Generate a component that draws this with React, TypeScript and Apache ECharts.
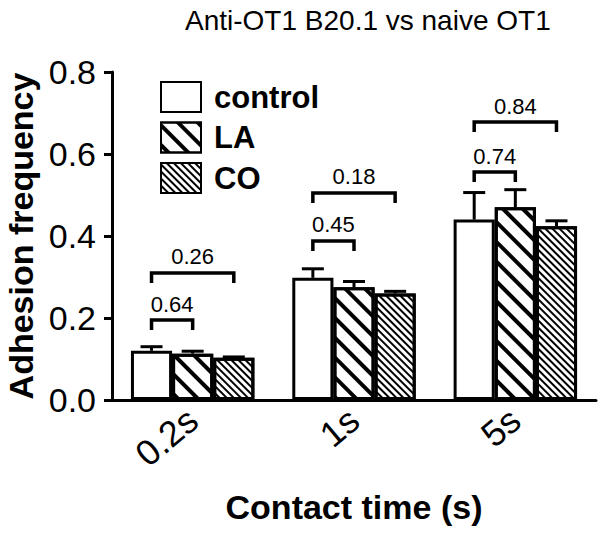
import React, { useEffect, useRef } from "react";
import * as echarts from "echarts";

const categories = ["0.2s", "1s", "5s"];
const seriesNames = ["control", "LA", "CO"];
const controlValues = [0.12, 0.298, 0.44];
const controlErrors = [0.01, 0.022, 0.066];
const laValues = [0.113, 0.275, 0.47];
const laErrors = [0.006, 0.014, 0.043];
const coValues = [0.103, 0.26, 0.424];
const coErrors = [0.002, 0.005, 0.013];
const yTicks = [0, 0.2, 0.4, 0.6, 0.8];
// bracket: [category index, y value, from bar, to bar]
const brackets = [
  [0, 0.195, 0, 1],
  [0, 0.31, 0, 2],
  [1, 0.388, 0, 1],
  [1, 0.505, 0, 2],
  [2, 0.556, 0, 1],
  [2, 0.678, 0, 2],
];
const bracketLabels = ["0.64", "0.26", "0.45", "0.18", "0.74", "0.84"];

const FONT = "'Liberation Sans', Arial, Helvetica, sans-serif";
const BAR_FRAC = 0.255;

export default function App() {
  const ref = useRef<HTMLDivElement>(null);
  useEffect(() => {
    if (!ref.current) return;
    const chart = echarts.init(ref.current, null, { renderer: "svg" });
    const values = [controlValues, laValues, coValues];
    const errors = [controlErrors, laErrors, coErrors];
    const decals: any[] = [
      null,
      {
        symbol: "rect",
        symbolSize: 1,
        dashArrayX: [1, 0],
        dashArrayY: [3.5, 10],
        rotation: Math.PI / 4,
        color: "#000",
        backgroundColor: "#fff",
      },
      {
        symbol: "rect",
        symbolSize: 1,
        dashArrayX: [1, 0],
        dashArrayY: [1.6, 3],
        rotation: Math.PI / 4,
        color: "#000",
        backgroundColor: "#fff",
      },
    ];
    const barSeries = seriesNames.map((name, i) => ({
      name,
      type: "bar",
      data: values[i],
      barWidth: BAR_FRAC * 100 + "%",
      barGap: "0%",
      z: 2,
      itemStyle: {
        color: "#fff",
        borderColor: "#000",
        borderWidth: 3,
        decal: decals[i] || undefined,
      },
    }));
    const errData: number[][] = [];
    errors.forEach((arr, s) =>
      arr.forEach((e, c) => errData.push([c, s, values[s][c], e]))
    );
    const option: any = {
      animation: false,
      aria: { enabled: false },
      title: {
        text: "Anti-OT1 B20.1 vs naive OT1",
        left: 180,
        top: 1,
        textStyle: { fontFamily: FONT, fontSize: 28, fontWeight: "normal", color: "#000" },
      },
      legend: {
        orient: "vertical",
        left: 155,
        top: 76,
        itemWidth: 40,
        itemHeight: 30,
        itemGap: 8.5,
        icon: "rect",
        data: seriesNames,
        textStyle: {
          fontFamily: FONT,
          fontSize: 31,
          fontWeight: "bold",
          color: "#000",
          padding: [0, 0, 0, 8],
        },
      },
      grid: { left: 112, right: 4, top: 72, bottom: 138, outerBoundsMode: "none", containLabel: false },
      xAxis: {
        type: "category",
        data: categories,
        name: "Contact time (s)",
        nameLocation: "middle",
        nameGap: 90,
        nameTextStyle: { fontFamily: FONT, fontSize: 34, fontWeight: "bold", color: "#000" },
        axisLine: { lineStyle: { color: "#000", width: 3 } },
        axisTick: { alignWithLabel: true, length: 8, lineStyle: { color: "#000", width: 3 } },
        axisLabel: {
          rotate: 40,
          margin: 15,
          fontFamily: FONT,
          fontSize: 36,
          color: "#000",
        },
      },
      yAxis: {
        type: "value",
        min: 0,
        max: 0.8,
        interval: 0.2,
        name: "Adhesion frequency",
        nameLocation: "middle",
        nameGap: 70,
        nameTextStyle: { fontFamily: FONT, fontSize: 34, fontWeight: "bold", color: "#000" },
        splitLine: { show: false },
        axisLine: { show: true, lineStyle: { color: "#000", width: 3 } },
        axisTick: { show: true, length: 8, lineStyle: { color: "#000", width: 3 } },
        axisLabel: {
          margin: 16,
          fontFamily: FONT,
          fontSize: 34,
          color: "#000",
          formatter: (v: number) => (yTicks.indexOf(v) >= 0 ? v.toFixed(1) : ""),
        },
      },
      series: [
        ...barSeries,
        {
          type: "custom",
          name: "errors",
          z: 5,
          silent: true,
          encode: { x: 0, y: 2 },
          data: errData,
          renderItem: (params: any, api: any) => {
            const c = api.value(0);
            const s = api.value(1);
            const v = api.value(2);
            const e = api.value(3);
            const band = api.size([1, 0])[0];
            const off = (s - 1) * band * BAR_FRAC;
            const p0 = api.coord([c, v]);
            const p1 = api.coord([c, v + e]);
            const x = p0[0] + off;
            const hw = 11;
            return {
              type: "group",
              children: [
                {
                  type: "line",
                  shape: { x1: x, y1: p0[1], x2: x, y2: p1[1] },
                  style: { stroke: "#000", lineWidth: 3 },
                },
                {
                  type: "line",
                  shape: { x1: x - hw, y1: p1[1], x2: x + hw, y2: p1[1] },
                  style: { stroke: "#000", lineWidth: 3 },
                },
              ],
            };
          },
        },
        {
          type: "custom",
          name: "brackets",
          z: 5,
          silent: true,
          encode: { x: 0, y: 1 },
          data: brackets,
          renderItem: (params: any, api: any) => {
            const c = api.value(0);
            const y = api.value(1);
            const a = api.value(2);
            const b = api.value(3);
            const band = api.size([1, 0])[0];
            const p = api.coord([c, y]);
            const xa = p[0] + (a - 1) * band * BAR_FRAC;
            const xb = p[0] + (b - 1) * band * BAR_FRAC;
            const drop = 10;
            return {
              type: "group",
              children: [
                {
                  type: "polyline",
                  shape: {
                    points: [
                      [xa, p[1] + drop],
                      [xa, p[1]],
                      [xb, p[1]],
                      [xb, p[1] + drop],
                    ],
                  },
                  style: { stroke: "#000", lineWidth: 3.5, fill: null },
                },
                {
                  type: "text",
                  x: (xa + xb) / 2,
                  y: p[1] - 5,
                  style: {
                    text: bracketLabels[params.dataIndex],
                    fontFamily: FONT,
                    fontSize: 22,
                    fill: "#000",
                    align: "center",
                    verticalAlign: "bottom",
                  },
                },
              ],
            };
          },
        },
      ],
    };
    chart.setOption(option);
    return () => chart.dispose();
  }, []);
  return <div ref={ref} style={{ width: 600, height: 538, position: "absolute", left: 0, top: 0 }} />;
}
